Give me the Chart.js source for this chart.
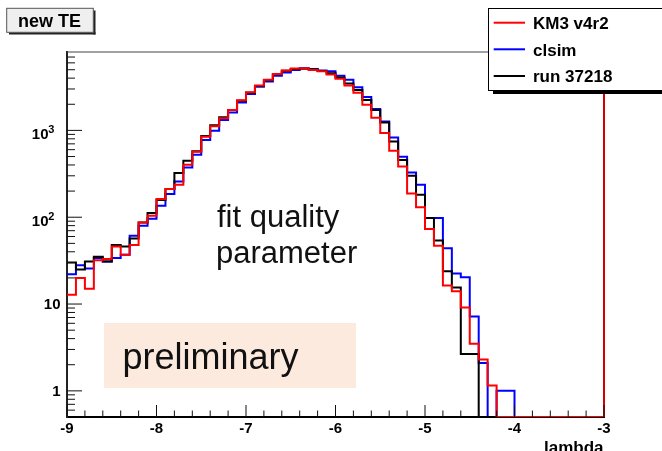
<!DOCTYPE html>
<html>
<head>
<meta charset="utf-8">
<style>
  html, body { margin: 0; padding: 0; background: #ffffff; }
  #wrap { width: 662px; height: 451px; position: relative; overflow: hidden; }
  canvas { display: block; }
</style>
<script src="https://cdn.jsdelivr.net/npm/chart.js@4.4.1/dist/chart.umd.min.js"></script>
</head>
<body>
<div id="wrap"><canvas id="c" width="662" height="451"></canvas></div>
<script>
// ---------------- data ----------------
const lambdaBinEdges = [
  -9.0, -8.9, -8.8, -8.7, -8.6, -8.5, -8.4, -8.3, -8.2, -8.1,
  -8.0, -7.9, -7.8, -7.7, -7.6, -7.5, -7.4, -7.3, -7.2, -7.1,
  -7.0, -6.9, -6.8, -6.7, -6.6, -6.5, -6.4, -6.3, -6.2, -6.1,
  -6.0, -5.9, -5.8, -5.7, -5.6, -5.5, -5.4, -5.3, -5.2, -5.1,
  -5.0, -4.9, -4.8, -4.7, -4.6, -4.5, -4.4, -4.3, -4.2, -4.1,
  -4.0, -3.9, -3.8, -3.7, -3.6, -3.5, -3.4, -3.3, -3.2, -3.1,
  -3.0
];

const km3Counts = [
  12.8, 20, 15, 32, 33, 46, 37, 48, 87, 104,
  162, 211, 237, 403, 569, 846, 1115, 1380, 1718, 2220,
  2750, 3290, 3840, 4450, 4900, 5150, 5150, 4965, 4790, 4400,
  3930, 3290, 2710, 1970, 1395, 935, 583, 385, 188, 130,
  73, 47, 16.3, 14, 9.1, 3.5, 2.3, 1.15, 0, 0,
  0, 0, 0, 0, 0, 0, 0, 0, 0, 0
];

const clsimCounts = [
  22, 28, 25.7, 34, 31, 34, 37, 61, 80, 96,
  136, 185, 258, 375, 525, 774, 993, 1318, 1611, 2100,
  2625, 3185, 3670, 4265, 4660, 4970, 5150, 5100, 4900, 4786,
  4265, 3820, 3150, 2420, 1765, 1270, 830, 498, 328, 237,
  98, 98, 44, 22.5, 20.3, 7.2, 2.09, 0, 1, 1,
  0, 0, 0, 0, 0, 0, 0, 0, 0, 0
];

const runCounts = [
  30, 25, 31, 35, 31, 48, 46, 57, 87, 112,
  158, 211, 323, 448, 575, 860, 1150, 1420, 1720, 2200,
  2720, 3240, 3780, 4420, 4850, 5100, 5150, 5050, 4820, 4540,
  4080, 3475, 2920, 2240, 1718, 1230, 747, 456, 301, 182,
  98, 54, 23.8, 15.5, 2.65, 2.65, 0, 0, 0, 0,
  0, 0, 0, 0, 0, 0, 0, 0, 0, 0
];

const seriesNames = ['KM3 v4r2', 'clsim', 'run 37218'];
const seriesColors = ['#ff0000', '#0000ff', '#000000'];

const xMajorTicks = [-9, -8, -7, -6, -5, -4, -3];
const xMinorTicks = [-8.8, -8.6, -8.4, -8.2, -7.8, -7.6, -7.4, -7.2, -6.8, -6.6, -6.4, -6.2,
                     -5.8, -5.6, -5.4, -5.2, -4.8, -4.6, -4.4, -4.2, -3.8, -3.6, -3.4, -3.2];
const yMajorTicks = [1, 10, 100, 1000];
const yMajorExponents = ['0', '1', '2', '3'];
const yMinorTicks = [0.6, 0.7, 0.8, 0.9, 2, 3, 4, 5, 6, 7, 8, 9,
                     20, 30, 40, 50, 60, 70, 80, 90, 200, 300, 400, 500, 600, 700, 800, 900,
                     2000, 3000, 4000, 5000, 6000, 7000];
const yAxisMin = 0.5;
const yAxisMax = 8000;
const xAxisTitle = 'lambda';
const padTitle = 'new TE';
const textLine1 = 'fit quality';
const textLine2 = 'parameter';
const stampText = 'preliminary';

// ---------------- helpers ----------------
function histPoints(counts) {
  // empty bins are drawn at the axis floor, as ROOT does on a log scale
  const pts = counts.map((v, i) => ({ x: lambdaBinEdges[i], y: v > 0 ? v : yAxisMin }));
  const last = counts[counts.length - 1];
  pts.push({ x: lambdaBinEdges[counts.length], y: last > 0 ? last : yAxisMin });
  return pts;
}

const FONT = '"Liberation Sans", Arial, Helvetica, sans-serif';

const overlay = {
  id: 'overlay',
  beforeDatasetsDraw(chart) {
    const ctx = chart.ctx;
    ctx.save();
    ctx.fillStyle = '#fdeade';
    ctx.fillRect(104, 323, 252, 65);
    ctx.fillStyle = '#111111';
    ctx.font = '36px ' + FONT;
    ctx.textBaseline = 'alphabetic';
    ctx.textAlign = 'left';
    ctx.fillText(stampText, 122.5, 368.5);
    ctx.font = '31px ' + FONT;
    ctx.fillText(textLine1, 217, 226.7);
    ctx.fillText(textLine2, 216, 263.3);
    ctx.restore();
  },
  afterDatasetsDraw(chart) {
    const ctx = chart.ctx;
    const xs = chart.scales.x, ys = chart.scales.y;
    const a = chart.chartArea;
    ctx.save();
    // right edge line (red histogram edge)
    const xr = xs.getPixelForValue(lambdaBinEdges[lambdaBinEdges.length - 1]);
    ctx.strokeStyle = '#d40000';
    ctx.lineWidth = 2;
    ctx.beginPath(); ctx.moveTo(xr, a.bottom); ctx.lineTo(xr, a.top); ctx.stroke();
    // top frame line
    ctx.strokeStyle = '#444444';
    ctx.lineWidth = 1.2;
    ctx.beginPath(); ctx.moveTo(a.left, a.top); ctx.lineTo(a.right, a.top); ctx.stroke();

    // ticks (inward)
    ctx.strokeStyle = '#111111';
    ctx.lineWidth = 1;
    ctx.beginPath();
    xMajorTicks.forEach(v => { const p = xs.getPixelForValue(v); ctx.moveTo(p, a.bottom); ctx.lineTo(p, a.bottom - 12); });
    xMinorTicks.forEach(v => { const p = xs.getPixelForValue(v); ctx.moveTo(p, a.bottom); ctx.lineTo(p, a.bottom - 6.5); });
    yMajorTicks.forEach(v => { const p = ys.getPixelForValue(v); ctx.moveTo(a.left, p); ctx.lineTo(a.left + 15, p); });
    yMinorTicks.forEach(v => { const p = ys.getPixelForValue(v); ctx.moveTo(a.left, p); ctx.lineTo(a.left + 8, p); });
    ctx.stroke();

    // y labels
    ctx.fillStyle = '#000000';
    ctx.textBaseline = 'alphabetic';
    yMajorTicks.forEach((v, i) => {
      const p = ys.getPixelForValue(v);
      if (v < 100) {
        ctx.font = 'bold 15px ' + FONT;
        ctx.textAlign = 'right';
        ctx.fillText(String(v), 60.5, p + 5.2);
      } else {
        ctx.font = 'bold 15px ' + FONT;
        ctx.textAlign = 'right';
        ctx.fillText('10', 48.5, p + 8.3);
        ctx.font = 'bold 11px ' + FONT;
        ctx.textAlign = 'left';
        ctx.fillText(yMajorExponents[i], 48.3, p + 2.4);
      }
    });

    // x axis title
    ctx.font = 'bold 17px ' + FONT;
    ctx.textAlign = 'right';
    ctx.fillText(xAxisTitle, 603.5, 452.5);

    // legend box
    ctx.fillStyle = '#000000';
    ctx.fillRect(493, 90.5, 180, 3.5);
    ctx.fillStyle = '#ffffff';
    ctx.fillRect(488.5, 8.5, 190, 82);
    ctx.strokeStyle = '#000000';
    ctx.lineWidth = 1;
    ctx.strokeRect(488.5, 8.5, 190, 82);
    const rowsY = [22.7, 49.3, 76];
    seriesNames.forEach((name, i) => {
      ctx.strokeStyle = seriesColors[i];
      ctx.lineWidth = 2;
      ctx.beginPath(); ctx.moveTo(493.7, rowsY[i]); ctx.lineTo(525, rowsY[i]); ctx.stroke();
      ctx.fillStyle = '#000000';
      ctx.font = 'bold 17px ' + FONT;
      ctx.textAlign = 'left';
      ctx.fillText(name, 533, rowsY[i] + 6.2);
    });

    // pad title box
    ctx.fillStyle = '#222222';
    ctx.fillRect(9, 32.3, 86.5, 2.2);
    ctx.fillRect(93.3, 10.5, 2.2, 24);
    ctx.fillStyle = '#efefef';
    ctx.fillRect(6.7, 8.3, 86.6, 24);
    ctx.strokeStyle = '#555555';
    ctx.lineWidth = 1;
    ctx.strokeRect(6.7, 8.3, 86.6, 24);
    ctx.fillStyle = '#000000';
    ctx.font = 'bold 18px ' + FONT;
    ctx.textAlign = 'center';
    ctx.fillText(padTitle, 49.5, 26.6);
    ctx.restore();
  }
};

const datasets = [
  { label: seriesNames[0], data: histPoints(km3Counts), borderColor: seriesColors[0] },
  { label: seriesNames[2], data: histPoints(runCounts), borderColor: seriesColors[2] },
  { label: seriesNames[1], data: histPoints(clsimCounts), borderColor: seriesColors[1] }
].map(d => Object.assign(d, {
  borderWidth: 2, stepped: 'before', pointRadius: 0, fill: false, tension: 0,
  borderJoinStyle: 'miter', borderCapStyle: 'butt'
}));

new Chart(document.getElementById('c'), {
  type: 'line',
  data: { datasets },
  options: {
    responsive: false,
    animation: false,
    devicePixelRatio: 1,
    layout: { padding: { left: 0, right: 58, top: 52, bottom: 0 } },
    plugins: { legend: { display: false }, tooltip: { enabled: false }, title: { display: false } },
    scales: {
      x: {
        type: 'linear',
        min: -9, max: -3,
        grid: { display: false, drawTicks: false },
        border: { display: true, color: '#000000', width: 2 },
        afterBuildTicks: s => { s.ticks = xMajorTicks.map(v => ({ value: v })); },
        afterFit: s => { s.height = 34; },
        ticks: {
          autoSkip: false, maxRotation: 0, padding: 2.5, color: '#000000',
          font: { family: FONT, size: 15, weight: 'bold' },
          callback: v => String(v)
        }
      },
      y: {
        type: 'logarithmic',
        min: yAxisMin, max: yAxisMax,
        grid: { display: false, drawTicks: false },
        border: { display: true, color: '#222222', width: 2 },
        afterBuildTicks: s => { s.ticks = yMajorTicks.map(v => ({ value: v })); },
        afterFit: s => { s.width = 67; },
        ticks: { display: false }
      }
    }
  },
  plugins: [overlay]
});
</script>
</body>
</html>
